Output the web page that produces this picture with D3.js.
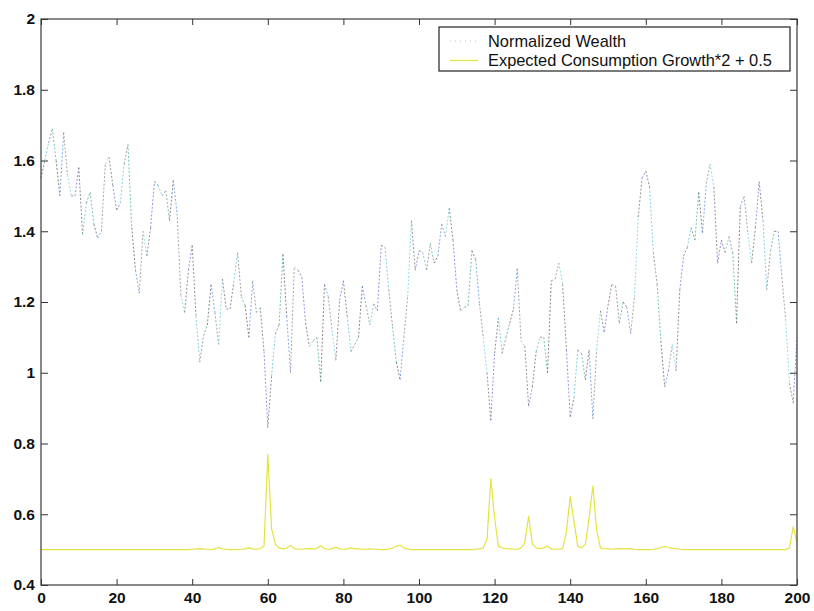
<!DOCTYPE html>
<html>
<head>
<meta charset="utf-8">
<script src="https://cdn.jsdelivr.net/npm/d3@7/dist/d3.min.js"></script>
<style>
  html, body { margin: 0; padding: 0; background: #fff; }
  svg { display: block; }
  .tick text { font-family: "Liberation Sans", Arial, sans-serif; font-weight: bold; font-size: 15.5px; fill: #111; }
  .legend text { font-family: "Liberation Sans", Arial, sans-serif; font-size: 16.4px; fill: #111; }
</style>
</head>
<body>
<script>
// Period index 0..200 on the x axis
const xTickValues = [0, 20, 40, 60, 80, 100, 120, 140, 160, 180, 200];
const yTickValues = [0.4, 0.6, 0.8, 1, 1.2, 1.4, 1.6, 1.8, 2];
const seriesNames = ["Normalized Wealth", "Expected Consumption Growth*2 + 0.5"];

// Normalized wealth, one value per period
const wealth = [
  1.55, 1.60, 1.65, 1.69, 1.60, 1.50, 1.68, 1.56, 1.50, 1.50,
  1.58, 1.39, 1.48, 1.51, 1.42, 1.38, 1.40, 1.59, 1.61, 1.53,
  1.46, 1.48, 1.59, 1.645, 1.41, 1.29, 1.225, 1.40, 1.33, 1.41,
  1.54, 1.53, 1.50, 1.515, 1.43, 1.545, 1.45, 1.22, 1.17, 1.29,
  1.36, 1.16, 1.03, 1.105, 1.135, 1.25, 1.17, 1.08, 1.265, 1.18,
  1.18, 1.255, 1.34, 1.215, 1.19, 1.10, 1.26, 1.17, 1.185, 1.06,
  0.845, 0.99, 1.11, 1.135, 1.335, 1.16, 1.00, 1.30, 1.29, 1.27,
  1.14, 1.075, 1.09, 1.10, 0.975, 1.25, 1.215, 1.12, 1.035, 1.205,
  1.26, 1.16, 1.06, 1.08, 1.10, 1.245, 1.19, 1.135, 1.195, 1.175,
  1.36, 1.355, 1.235, 1.13, 1.03, 0.98, 1.10, 1.215, 1.43, 1.29,
  1.345, 1.34, 1.29, 1.365, 1.31, 1.33, 1.42, 1.385, 1.465, 1.375,
  1.235, 1.175, 1.185, 1.19, 1.345, 1.32, 1.195, 1.10, 1.00, 0.865,
  1.055, 1.155, 1.055, 1.10, 1.14, 1.18, 1.295, 1.09, 1.075, 0.905,
  0.96, 1.06, 1.10, 1.10, 1.00, 1.26, 1.265, 1.31, 1.25, 1.065,
  0.875, 0.93, 1.065, 1.055, 0.98, 1.065, 0.87, 1.065, 1.175, 1.115,
  1.19, 1.25, 1.245, 1.14, 1.20, 1.185, 1.11, 1.215, 1.44, 1.55,
  1.57, 1.525, 1.34, 1.25, 1.09, 0.96, 1.005, 1.08, 1.005, 1.235,
  1.33, 1.355, 1.41, 1.375, 1.51, 1.395, 1.535, 1.59, 1.525, 1.31,
  1.375, 1.34, 1.385, 1.34, 1.14, 1.47, 1.50, 1.395, 1.31, 1.41,
  1.54, 1.43, 1.235, 1.345, 1.40, 1.40, 1.27, 1.15, 0.97, 0.915,
  1.10
];

// Expected consumption growth, scaled by 2 and shifted by 0.5
const consumption = [
  0.5, 0.5, 0.5, 0.5, 0.5, 0.5, 0.5, 0.5, 0.5, 0.5,
  0.5, 0.5, 0.5, 0.5, 0.5, 0.5, 0.5, 0.5, 0.5, 0.5,
  0.5, 0.5, 0.5, 0.5, 0.5, 0.5, 0.5, 0.5, 0.5, 0.5,
  0.5, 0.5, 0.5, 0.5, 0.5, 0.5, 0.5, 0.5, 0.5, 0.5,
  0.501, 0.502, 0.503, 0.502, 0.501, 0.5, 0.502, 0.506, 0.502, 0.501,
  0.5, 0.5, 0.5, 0.501, 0.502, 0.505, 0.502, 0.501, 0.503, 0.51,
  0.77, 0.56, 0.515, 0.505, 0.502, 0.504, 0.512, 0.503, 0.501, 0.501,
  0.502, 0.503, 0.502, 0.503, 0.511, 0.503, 0.501, 0.503, 0.507, 0.502,
  0.501, 0.502, 0.505, 0.502, 0.502, 0.501, 0.501, 0.502, 0.501, 0.501,
  0.5, 0.5, 0.501, 0.504, 0.51, 0.513, 0.505, 0.502, 0.5, 0.5,
  0.5, 0.5, 0.5, 0.5, 0.5, 0.5, 0.5, 0.5, 0.5, 0.5,
  0.5, 0.5, 0.5, 0.5, 0.5, 0.501, 0.502, 0.505, 0.53, 0.70,
  0.59, 0.51, 0.505, 0.503, 0.502, 0.501, 0.501, 0.505, 0.52, 0.595,
  0.515, 0.505, 0.503, 0.505, 0.51, 0.502, 0.501, 0.501, 0.503, 0.55,
  0.65, 0.58, 0.51, 0.505, 0.515, 0.59, 0.68, 0.555, 0.505, 0.503,
  0.502, 0.501, 0.502, 0.503, 0.502, 0.502, 0.503, 0.501, 0.5, 0.5,
  0.5, 0.5, 0.501, 0.503, 0.506, 0.509, 0.506, 0.504, 0.503, 0.501,
  0.5, 0.5, 0.5, 0.5, 0.5, 0.5, 0.5, 0.5, 0.5, 0.5,
  0.5, 0.5, 0.5, 0.5, 0.5, 0.5, 0.5, 0.5, 0.5, 0.5,
  0.5, 0.5, 0.5, 0.5, 0.5, 0.5, 0.5, 0.5, 0.505, 0.565,
  0.52
];

const W = 814, H = 611;
const plot = { left: 41, top: 19, right: 797, bottom: 585 };

const svg = d3.select("body").append("svg").attr("width", W).attr("height", H);

const x = d3.scaleLinear().domain([0, 200]).range([plot.left, plot.right]);
const y = d3.scaleLinear().domain([0.4, 2]).range([plot.bottom, plot.top]);

// Axes with inward-pointing ticks
const fmt = d3.format("~g");
svg.append("g").attr("transform", `translate(0,${plot.bottom})`)
  .call(d3.axisBottom(x).tickValues(xTickValues).tickFormat(fmt).tickSize(-6).tickPadding(7))
  .call(g => g.select(".domain").remove());
svg.append("g").attr("transform", `translate(${plot.left},0)`)
  .call(d3.axisLeft(y).tickValues(yTickValues).tickFormat(fmt).tickSize(-7).tickPadding(6))
  .call(g => g.select(".domain").remove());
svg.append("g").attr("transform", `translate(0,${plot.top})`)
  .call(d3.axisTop(x).tickValues(xTickValues).tickFormat("").tickSize(-6))
  .call(g => g.select(".domain").remove());
svg.append("g").attr("transform", `translate(${plot.right},0)`)
  .call(d3.axisRight(y).tickValues(yTickValues).tickFormat("").tickSize(-7))
  .call(g => g.select(".domain").remove());
svg.selectAll(".tick line").attr("stroke", "#333");

// Consumption growth line (yellow)
const line = d3.line().x((d, i) => x(i)).y(d => y(d));
svg.append("path")
  .datum(consumption)
  .attr("fill", "none")
  .attr("stroke", "#e4e440")
  .attr("stroke-width", 1.2)
  .attr("stroke-linejoin", "round")
  .attr("d", line);

// Wealth line: thin dotted trace whose segments alternate between grey and blue-green tints
const segmentTints = ["#6a6a6a", "#5cc0d4", "#808080", "#4aae98", "#5e5e5e", "#5a8fe0", "#8a8a8a", "#6fd0de", "#707070", "#7a6cd8"];
const segs = d3.pairs(wealth.map((v, i) => [i, v]));
svg.append("g")
  .selectAll("line")
  .data(segs)
  .join("line")
  .attr("x1", d => x(d[0][0])).attr("y1", d => y(d[0][1]))
  .attr("x2", d => x(d[1][0])).attr("y2", d => y(d[1][1]))
  .attr("stroke", (d, i) => segmentTints[i % segmentTints.length])
  .attr("stroke-width", 1)
  .attr("stroke-opacity", 0.75)
  .attr("stroke-dasharray", "2,1.8");

// Axes frame
svg.append("rect")
  .attr("x", plot.left).attr("y", plot.top)
  .attr("width", plot.right - plot.left).attr("height", plot.bottom - plot.top)
  .attr("fill", "none").attr("stroke", "#3a3a3a").attr("stroke-width", 1.2);

// Legend
const legend = svg.append("g").attr("class", "legend");
legend.append("rect")
  .attr("x", 439).attr("y", 27).attr("width", 351).attr("height", 44)
  .attr("fill", "#fff").attr("stroke", "#222").attr("stroke-width", 1.2);
const legendStyles = [
  { stroke: "#c4c4c4", dash: "1,4", width: 1 },
  { stroke: "#e4e440", dash: null, width: 1.2 }
];
seriesNames.forEach((name, i) => {
  const cy = 41 + i * 19.5;
  legend.append("line")
    .attr("x1", 450).attr("x2", 478).attr("y1", cy).attr("y2", cy)
    .attr("stroke", legendStyles[i].stroke)
    .attr("stroke-width", legendStyles[i].width)
    .attr("stroke-dasharray", legendStyles[i].dash);
  legend.append("text")
    .attr("x", 488).attr("y", cy + 5.5)
    .text(name);
});
</script>
</body>
</html>
